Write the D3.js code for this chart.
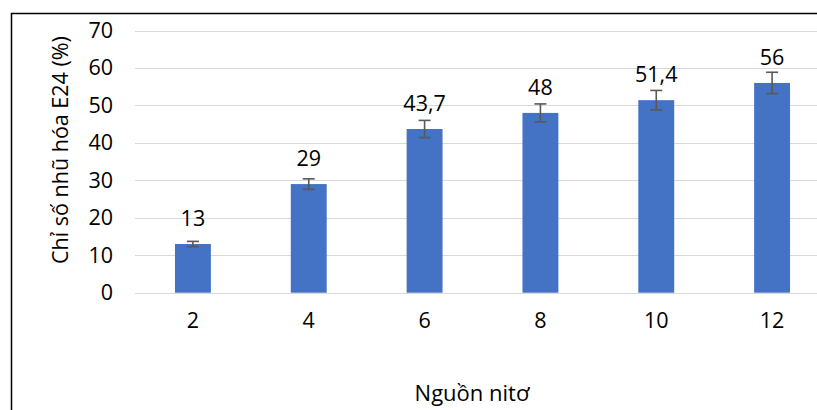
<!DOCTYPE html>
<html>
<head>
<meta charset="utf-8">
<script src="https://cdn.jsdelivr.net/npm/d3@7"></script>
<style>
html,body{margin:0;padding:0;background:#fff;overflow:hidden;}
svg{display:block;}
text{font-family:"Open Sans","Noto Sans",sans-serif;fill:#000;}
</style>
</head>
<body>
<svg id="chart" width="817" height="410"></svg>
<script>
const categories = ["2", "4", "6", "8", "10", "12"];
const values = [13, 29, 43.7, 48, 51.4, 56];
const errors = [0.7, 1.4, 2.3, 2.4, 2.6, 2.85];
const valueLabels = ["13", "29", "43,7", "48", "51,4", "56"];
const yTicks = [0, 10, 20, 30, 40, 50, 60, 70];
const xTitle = "Nguồn nitơ";
const yTitle = "Chỉ số nhũ hóa E24 (%)";

const FONT = "'Open Sans', 'Noto Sans', sans-serif";
const FS = 21.5;
const svg = d3.select("#chart");
const W = 817, H = 410;

const x = d3.scaleBand().domain(categories).range([135, 830])
  .paddingInner(0.69).paddingOuter(0.345);
const y = d3.scaleLinear().domain([0, 70]).range([292.7, 30.5]);

// border (chart area, cropped)
svg.append("path")
  .attr("d", `M11.5,${H} V13.5 H${W}`)
  .attr("fill", "none").attr("stroke", "#000").attr("stroke-width", 1.5);

// gridlines
svg.append("g").selectAll("line").data(yTicks).join("line")
  .attr("x1", 135).attr("x2", W)
  .attr("y1", d => Math.round(y(d)) + 0.5).attr("y2", d => Math.round(y(d)) + 0.5)
  .attr("stroke", "#d9d9d9").attr("stroke-width", 1.2);

// y axis labels
const yAxis = d3.axisLeft(y).tickValues(yTicks).tickSize(0).tickPadding(0).tickFormat(d3.format("d"));
const gy = svg.append("g").attr("transform", "translate(113,0)").call(yAxis);
gy.select(".domain").remove();
gy.selectAll("text").attr("font-size", FS).attr("font-family", FONT).attr("fill", "#000");

// x axis labels
const xAxis = d3.axisBottom(x).tickSize(0).tickPadding(0);
const gx = svg.append("g").attr("transform", "translate(0,313)").call(xAxis);
gx.select(".domain").remove();
gx.selectAll("text").attr("font-size", FS).attr("font-family", FONT).attr("fill", "#000");

// bars
svg.append("g").selectAll("rect").data(values).join("rect")
  .attr("x", (d, i) => x(categories[i]))
  .attr("width", x.bandwidth())
  .attr("y", d => y(d))
  .attr("height", d => y(0) - y(d))
  .attr("fill", "#4472c4");

// error bars
const eg = svg.append("g").attr("stroke", "#595959").attr("stroke-width", 1.6);
values.forEach((v, i) => {
  const cx = x(categories[i]) + x.bandwidth() / 2;
  const top = y(v + errors[i]), bot = y(v - errors[i]);
  eg.append("line").attr("x1", cx).attr("x2", cx).attr("y1", top).attr("y2", bot);
  eg.append("line").attr("x1", cx - 6).attr("x2", cx + 6).attr("y1", top).attr("y2", top);
  eg.append("line").attr("x1", cx - 6).attr("x2", cx + 6).attr("y1", bot).attr("y2", bot);
});

// value labels
svg.append("g").selectAll("text").data(values).join("text")
  .attr("x", (d, i) => x(categories[i]) + x.bandwidth() / 2)
  .attr("y", d => y(d) - 18)
  .attr("text-anchor", "middle")
  .attr("font-size", FS)
  .text((d, i) => valueLabels[i]);

// axis titles
svg.append("text").attr("x", 472).attr("y", 401).attr("text-anchor", "middle")
  .attr("font-size", 22).text(xTitle);
svg.append("text").attr("transform", "translate(68,150) rotate(-90)")
  .attr("text-anchor", "middle").attr("font-size", FS).text(yTitle);
</script>
</body>
</html>
